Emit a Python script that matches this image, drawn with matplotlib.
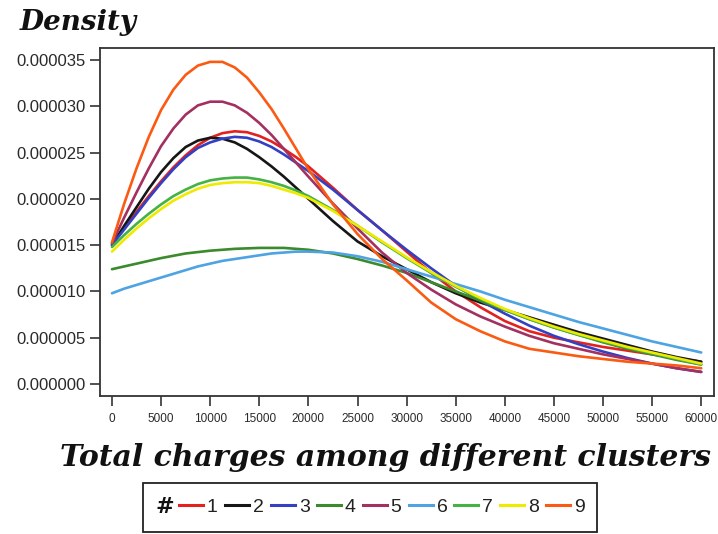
import matplotlib
matplotlib.use("Agg")
import matplotlib.pyplot as plt
from matplotlib import font_manager
from matplotlib.lines import Line2D
from matplotlib.patches import Rectangle

# ---------------- data ----------------
charges = [0, 1250, 2500, 3750, 5000, 6250, 7500, 8750, 10000, 11250, 12500, 13750,
           15000, 16250, 17500, 18750, 20000, 22500, 25000, 27500, 30000, 32500,
           35000, 37500, 40000, 42500, 45000, 47500, 50000, 52500, 55000, 57500, 60000]

# densities in units of 1e-5
dens_1 = [1.52, 1.69, 1.86, 2.03, 2.19, 2.34, 2.47, 2.58, 2.66, 2.71, 2.73, 2.72,
          2.68, 2.62, 2.54, 2.45, 2.35, 2.12, 1.88, 1.66, 1.43, 1.20, 1.00, 0.83,
          0.68, 0.57, 0.50, 0.45, 0.40, 0.36, 0.32, 0.28, 0.24]
dens_2 = [1.50, 1.71, 1.91, 2.11, 2.29, 2.44, 2.56, 2.63, 2.66, 2.65, 2.61, 2.54,
          2.45, 2.35, 2.24, 2.12, 2.00, 1.76, 1.54, 1.38, 1.24, 1.10, 0.98, 0.88,
          0.80, 0.72, 0.64, 0.56, 0.49, 0.42, 0.35, 0.29, 0.24]
dens_3 = [1.50, 1.67, 1.84, 2.01, 2.17, 2.32, 2.45, 2.55, 2.61, 2.65, 2.67, 2.66,
          2.62, 2.56, 2.48, 2.39, 2.30, 2.10, 1.88, 1.66, 1.45, 1.25, 1.06, 0.90,
          0.76, 0.63, 0.52, 0.43, 0.35, 0.28, 0.22, 0.17, 0.13]
dens_4 = [1.24, 1.27, 1.30, 1.33, 1.36, 1.385, 1.41, 1.425, 1.44, 1.45, 1.46, 1.465,
          1.47, 1.47, 1.47, 1.46, 1.45, 1.41, 1.35, 1.28, 1.20, 1.10, 1.00, 0.90,
          0.80, 0.70, 0.61, 0.53, 0.45, 0.38, 0.32, 0.26, 0.21]
dens_5 = [1.52, 1.80, 2.07, 2.33, 2.57, 2.76, 2.91, 3.01, 3.05, 3.05, 3.01, 2.93,
          2.82, 2.69, 2.54, 2.39, 2.24, 1.95, 1.68, 1.42, 1.20, 1.02, 0.86, 0.73,
          0.62, 0.52, 0.44, 0.38, 0.32, 0.27, 0.22, 0.17, 0.13]
dens_6 = [0.98, 1.03, 1.07, 1.11, 1.15, 1.19, 1.23, 1.27, 1.30, 1.33, 1.35, 1.37,
          1.39, 1.41, 1.42, 1.43, 1.43, 1.42, 1.38, 1.32, 1.24, 1.16, 1.08, 1.00,
          0.91, 0.83, 0.75, 0.67, 0.60, 0.53, 0.46, 0.40, 0.34]
dens_7 = [1.48, 1.61, 1.73, 1.84, 1.94, 2.03, 2.10, 2.16, 2.20, 2.22, 2.23, 2.23,
          2.21, 2.18, 2.14, 2.09, 2.03, 1.88, 1.71, 1.53, 1.36, 1.20, 1.05, 0.92,
          0.80, 0.70, 0.61, 0.53, 0.46, 0.39, 0.33, 0.27, 0.21]
dens_8 = [1.43, 1.56, 1.68, 1.79, 1.89, 1.98, 2.05, 2.11, 2.15, 2.17, 2.18, 2.18,
          2.17, 2.14, 2.10, 2.06, 2.01, 1.87, 1.71, 1.54, 1.37, 1.21, 1.06, 0.93,
          0.81, 0.71, 0.62, 0.54, 0.47, 0.40, 0.34, 0.28, 0.22]
dens_9 = [1.53, 1.95, 2.33, 2.67, 2.96, 3.18, 3.34, 3.44, 3.48, 3.48, 3.42, 3.31,
          3.15, 2.97, 2.76, 2.54, 2.32, 1.94, 1.62, 1.35, 1.12, 0.88, 0.70, 0.57,
          0.46, 0.38, 0.34, 0.30, 0.27, 0.24, 0.22, 0.20, 0.17]

series_labels = ["1", "2", "3", "4", "5", "6", "7", "8", "9"]
series_values = [dens_1, dens_2, dens_3, dens_4, dens_5, dens_6, dens_7, dens_8, dens_9]
series_colors = ["#e3211f", "#161616", "#3340c4", "#3b8a2c", "#a3305f",
                 "#4ea3e2", "#44b244", "#eeea00", "#fb5a12"]

x_ticks = [0, 5000, 10000, 15000, 20000, 25000, 30000, 35000, 40000, 45000,
           50000, 55000, 60000]
y_ticks = [0.0, 0.000005, 0.00001, 0.000015, 0.00002, 0.000025, 0.00003, 0.000035]
y_tick_labels = ["0.000000", "0.000005", "0.000010", "0.000015", "0.000020",
                 "0.000025", "0.000030", "0.000035"]

# ---------------- fonts ----------------
names = {f.name for f in font_manager.fontManager.ttflist}
if "Liberation Sans Narrow" in names:
    narrow = dict(family="Liberation Sans Narrow")
elif "Liberation Sans" in names:
    narrow = dict(family="Liberation Sans")
else:
    narrow = dict(family="DejaVu Sans")
fancy = dict(family="DejaVu Serif", weight="bold", style="italic")

W, H = 718, 534
fig = plt.figure(figsize=(W / 100, H / 100), dpi=100)
fig.patch.set_facecolor("white")
ax = fig.add_axes([100 / W, 1 - 396 / H, (714 - 100) / W, (396 - 48) / H])

for lab, vals, col in zip(series_labels, series_values, series_colors):
    ax.plot(charges, [v * 1e-5 for v in vals], color=col, lw=1.9,
            solid_capstyle="round", solid_joinstyle="round", label=lab)

ax.set_xlim(-1220, 61300)
ax.set_ylim(-0.0000013, 0.0000363)
ax.set_xticks(x_ticks)
ax.set_xticklabels([str(t) for t in x_ticks])
ax.set_yticks(y_ticks)
ax.set_yticklabels(y_tick_labels)
for lbl in ax.get_xticklabels():
    lbl.set(**narrow, fontsize=8.5)
for lbl in ax.get_yticklabels():
    lbl.set(**narrow, fontsize=12)
ax.tick_params(axis="both", direction="out", length=7, width=1.2, colors="#333333",
               labelcolor="#2a2a2a")
ax.tick_params(axis="x", pad=5)
ax.tick_params(axis="y", pad=3)
for sp in ax.spines.values():
    sp.set_color("#333333")
    sp.set_linewidth(1.3)

fig.text(20 / W, 1 - 22 / H, "Density", ha="left", va="center", fontsize=20,
         color="#111111", **fancy)
fig.text(386 / W, 1 - 458 / H, "Total charges among different clusters",
         ha="center", va="center", fontsize=21.5, color="#111111", **fancy)

# legend
handles = [Line2D([], [], color=c, lw=2.2) for c in series_colors]
leg = fig.legend(handles, series_labels, ncol=9, loc="center left",
                 bbox_to_anchor=(179 / W, 1 - 507 / H), frameon=False,
                 handlelength=1.24, handletextpad=0.2, columnspacing=0.36,
                 borderpad=0, borderaxespad=0,
                 prop=font_manager.FontProperties(**narrow, size=14))
for t in leg.get_texts():
    t.set_color("#222222")
fig.text(155 / W, 1 - 507 / H, "#", ha="left", va="center", fontsize=16,
         color="#111111", **fancy)

fig.canvas.draw()
bb = leg.get_window_extent().transformed(fig.transFigure.inverted())
x0 = 143 / W
x1 = bb.x1 + 12 / W
fig.add_artist(Rectangle((x0, 1 - 532 / H), x1 - x0, (532 - 483) / H,
                         transform=fig.transFigure, fill=False,
                         edgecolor="#222222", lw=1.3))

fig.savefig("out.png", dpi=100, facecolor="white")
